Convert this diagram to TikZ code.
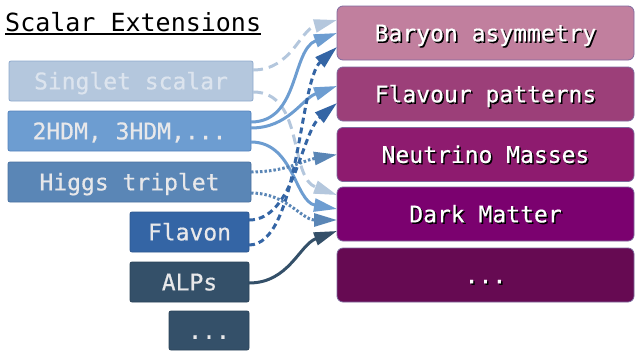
\documentclass[tikz,border=0pt]{standalone}
\usepackage{fontspec}
\setmonofont{DejaVu Sans Mono}
\newfontfamily\BoxFam[FakeBold=0.5]{DejaVu Sans Mono}
\usetikzlibrary{arrows.meta}

\definecolor{SingCol}{HTML}{B4C7DD}
\definecolor{SingBrd}{HTML}{8FA9CC}
\definecolor{SingTxt}{HTML}{DCE4EE}
\definecolor{HdmCol}{HTML}{6D9DD1}
\definecolor{HdmBrd}{HTML}{5583BD}
\definecolor{TripCol}{HTML}{5A86B6}
\definecolor{TripBrd}{HTML}{4A72A0}
\definecolor{FlavCol}{HTML}{3465A5}
\definecolor{FlavBrd}{HTML}{2D5790}
\definecolor{AlpCol}{HTML}{345069}
\definecolor{AlpBrd}{HTML}{2B4459}
\definecolor{LeftTxt}{HTML}{E8E8EA}
\definecolor{BarCol}{HTML}{C17F9E}
\definecolor{PatCol}{HTML}{9C3F79}
\definecolor{NeuCol}{HTML}{8E1B6F}
\definecolor{DmCol}{HTML}{7B016F}
\definecolor{RDotCol}{HTML}{660A52}
\definecolor{RBorder}{HTML}{7F6A9E}

\newcommand{\BoxFont}{\BoxFam\fontsize{23}{26}\selectfont}
\newcommand{\ShTxt}[1]{\rlap{\kern1.5pt\raisebox{-1.5pt}{\textcolor{black}{#1}}}#1}

\begin{document}
\begin{tikzpicture}[x=1pt,y=1pt]
  \useasboundingbox (0,0) rectangle (636,-351);
  \tikzstyle{LeftBox}=[rectangle,rounded corners=2pt,minimum height=40pt,
    inner sep=0pt,outer sep=0pt,line width=0.8pt,text=LeftTxt,
    text height=16.8pt,text depth=0pt,font=\BoxFont]
  \tikzstyle{RightBox}=[rectangle,rounded corners=6pt,minimum width=297pt,
    minimum height=54pt,inner sep=0pt,outer sep=0pt,line width=0.8pt,
    draw=RBorder,text=white,text height=16.8pt,text depth=0pt,font=\BoxFont]
  \tikzstyle{EdgeStyle}=[line width=3pt,-{Triangle[length=23pt,width=13pt]}]
  \tikzstyle{LightDash}=[EdgeStyle,color=SingCol,dash pattern=on 10pt off 6pt]
  \tikzstyle{HdmLine}=[EdgeStyle,color=HdmCol]
  \tikzstyle{TripDot}=[EdgeStyle,color=TripCol,dash pattern=on 2.5pt off 2pt]
  \tikzstyle{FlavDash}=[EdgeStyle,color=FlavCol,dash pattern=on 6pt off 4pt]
  \tikzstyle{AlpLine}=[EdgeStyle,color=AlpCol]

  \node[anchor=base west,inner sep=0pt,font=\ttfamily\fontsize{25}{28}\selectfont]
    (title) at (5,-31) {Scalar Extensions};
  \draw[line width=2pt] ([yshift=-3pt]title.base west) -- ([yshift=-3pt]title.base east);

  % left column
  \node[LeftBox,fill=SingCol,draw=SingBrd,text=SingTxt,minimum width=244pt] (singlet) at (131,-81) {Singlet scalar};
  \node[LeftBox,fill=HdmCol,draw=HdmBrd,minimum width=243pt] (hdm) at (129.5,-131) {2HDM, 3HDM,...};
  \node[LeftBox,fill=TripCol,draw=TripBrd,minimum width=243pt] (triplet) at (129.5,-182) {Higgs triplet};
  \node[LeftBox,fill=FlavCol,draw=FlavBrd,minimum width=119pt] (flavon) at (189.5,-232) {Flavon};
  \node[LeftBox,fill=AlpCol,draw=AlpBrd,minimum width=119pt] (alps) at (189.5,-282) {ALPs};
  \node[LeftBox,fill=AlpCol,draw=AlpBrd,minimum width=80pt,minimum height=39pt] (ldots) at (209,-330.5) {...};

  % right column
  \node[RightBox,fill=BarCol] (baryon) at (485.5,-33) {\ShTxt{Baryon asymmetry}};
  \node[RightBox,fill=PatCol] (flavour) at (485.5,-94) {\ShTxt{Flavour patterns}};
  \node[RightBox,fill=NeuCol] (neutrino) at (485.5,-154.5) {\ShTxt{Neutrino Masses}};
  \node[RightBox,fill=DmCol] (dm) at (485.5,-214) {\ShTxt{Dark Matter}};
  \node[RightBox,fill=RDotCol] (rdots) at (485.5,-275) {\ShTxt{...}};

  \draw[LightDash] ([yshift=-11pt]singlet.east) to[out=0,in=160] ([yshift=19pt]dm.west);
  \draw[LightDash] ([yshift=11pt]singlet.east) to[out=0,in=195] ([yshift=13pt]baryon.west);
  \draw[HdmLine] ([yshift=9pt]hdm.east) to[out=0,in=200] (baryon.west);
  \draw[HdmLine] ([yshift=3pt]hdm.east) to[out=0,in=200] ([yshift=8pt]flavour.west);
  \draw[HdmLine] ([yshift=-11pt]hdm.east) to[out=0,in=170] ([yshift=5pt]dm.west);
  \draw[TripDot] ([yshift=10pt]triplet.east) to[out=0,in=190] (neutrino.west);
  \draw[TripDot] ([yshift=-11pt]triplet.east) to[out=0,in=180] ([yshift=-6pt]dm.west);
  \draw[FlavDash] ([yshift=12pt]flavon.east) .. controls +(45,0) and +(-36,-30) .. ([yshift=-9pt]flavour.west);
  \draw[FlavDash] ([yshift=-13pt]flavon.east) .. controls +(50,0) and +(-38,-34) .. ([yshift=-14pt]baryon.west);
  \draw[AlpLine] ([yshift=-1pt]alps.east) to[out=0,in=200] ([yshift=-17pt]dm.west);
\end{tikzpicture}
\end{document}
